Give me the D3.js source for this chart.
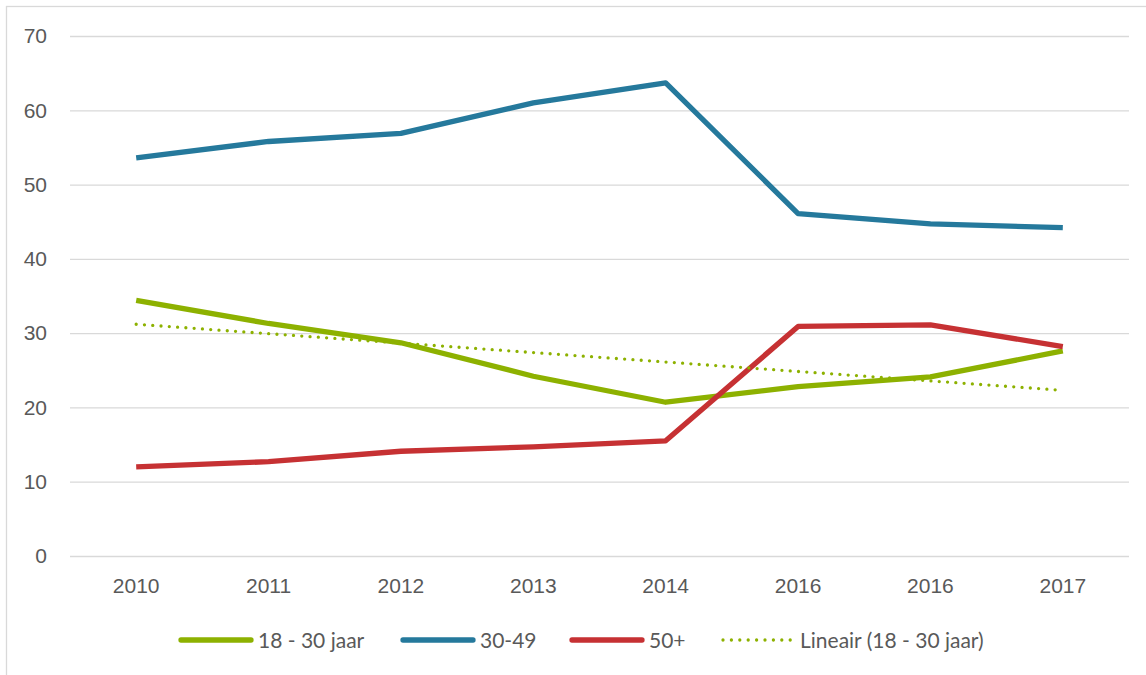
<!DOCTYPE html>
<html>
<head>
<meta charset="utf-8">
<script src="https://cdn.jsdelivr.net/npm/d3@7"></script>
<style>
  html, body { margin: 0; padding: 0; background: #fff; }
  svg { display: block; font-family: Lato, "Open Sans", sans-serif; }
</style>
</head>
<body>
<svg id="chart" width="1146" height="675"></svg>
<script>
// ── Data ─────────────────────────────────────────────
const years   = ['2010', '2011', '2012', '2013', '2014', '2016', '2016', '2017'];
const young   = [34.4, 31.3, 28.7, 24.2, 20.7, 22.8, 24.1, 27.6];   // 18 - 30 jaar
const middle  = [53.6, 55.8, 56.9, 61.0, 63.7, 46.1, 44.7, 44.2];   // 30-49
const senior  = [12.0, 12.7, 14.1, 14.7, 15.5, 30.9, 31.1, 28.2];   // 50+
const trend   = [31.2, 22.3];                                       // Lineair, first/last point
const yTicks  = [0, 10, 20, 30, 40, 50, 60, 70];

const series = [
    { name: '18 - 30 jaar', values: young,  color: '#8DB100' },
    { name: '30-49',        values: middle, color: '#25799C' },
    { name: '50+',          values: senior, color: '#C63133' },
];

const svg = d3.select('#chart');
const TEXT = '#595959';
const FONT = 21;

// chart border
svg.append('rect')
   .attr('x', 6.5).attr('y', 6.5)
   .attr('width', 1160).attr('height', 700)
   .attr('fill', 'none').attr('stroke', '#d9d9d9').attr('stroke-width', 1.3);

const PLOT = { left: 70, right: 1129, top: 36, bottom: 556 };

const idx = years.map((_, i) => i);
const x = d3.scaleBand().domain(idx).range([PLOT.left, PLOT.right]);
const xc = i => x(i) + x.bandwidth() / 2;
const y = d3.scaleLinear().domain([0, 70]).range([PLOT.bottom, PLOT.top]);

// ── Grid + y labels ───────────────────────────────────
const yAxis = d3.axisLeft(y).tickValues(yTicks).tickSize(-(PLOT.right - PLOT.left)).tickPadding(23);
const gy = svg.append('g').attr('transform', `translate(${PLOT.left},0)`).call(yAxis);
gy.select('.domain').remove();
gy.selectAll('.tick line').attr('stroke', '#d9d9d9').attr('stroke-width', 1.3);
gy.selectAll('.tick text').attr('fill', TEXT).attr('font-size', FONT);

// ── x labels ─────────────────────────────────────────
const xAxis = d3.axisBottom(x).tickSize(0).tickPadding(22).tickFormat(i => years[i]);
const gx = svg.append('g').attr('transform', `translate(0,${PLOT.bottom})`).call(xAxis);
gx.select('.domain').remove();
gx.selectAll('.tick text').attr('fill', TEXT).attr('font-size', FONT);

// ── Lines ────────────────────────────────────────────
const line = d3.line().x((d, i) => xc(i)).y(d => y(d));

svg.selectAll('.series')
   .data(series)
   .join('path')
   .attr('class', 'series')
   .attr('fill', 'none')
   .attr('stroke', d => d.color)
   .attr('stroke-width', 5.3)
   .attr('stroke-linejoin', 'round')
   .attr('d', d => line(d.values));

// trend line (dotted) from first to last category
svg.append('path')
   .attr('fill', 'none')
   .attr('stroke', '#8DB100')
   .attr('stroke-width', 3.3)
   .attr('stroke-linecap', 'round')
   .attr('stroke-dasharray', '0 8.3')
   .attr('d', d3.line().x(d => d[0]).y(d => y(d[1]))([[xc(0), trend[0]], [xc(idx.length - 1), trend[1]]]));

// ── Legend ───────────────────────────────────────────
const legendItems = [
    { name: '18 - 30 jaar',           color: '#8DB100', x: 181, dotted: false },
    { name: '30-49',                  color: '#25799C', x: 403, dotted: false },
    { name: '50+',                    color: '#C63133', x: 572, dotted: false },
    { name: 'Lineair (18 - 30 jaar)', color: '#8DB100', x: 723, dotted: true },
];
const lg = svg.append('g').selectAll('g')
    .data(legendItems)
    .join('g')
    .attr('transform', d => `translate(${d.x},640)`);

lg.append('line')
  .attr('x1', 0).attr('x2', 70)
  .attr('stroke', d => d.color)
  .attr('stroke-width', d => d.dotted ? 3.3 : 5.3)
  .attr('stroke-linecap', 'round')
  .attr('stroke-dasharray', d => d.dotted ? '0 8.4' : null);

lg.append('text')
  .attr('x', 77).attr('y', 7.5)
  .attr('fill', TEXT).attr('font-size', FONT)
  .text(d => d.name);
</script>
</body>
</html>
